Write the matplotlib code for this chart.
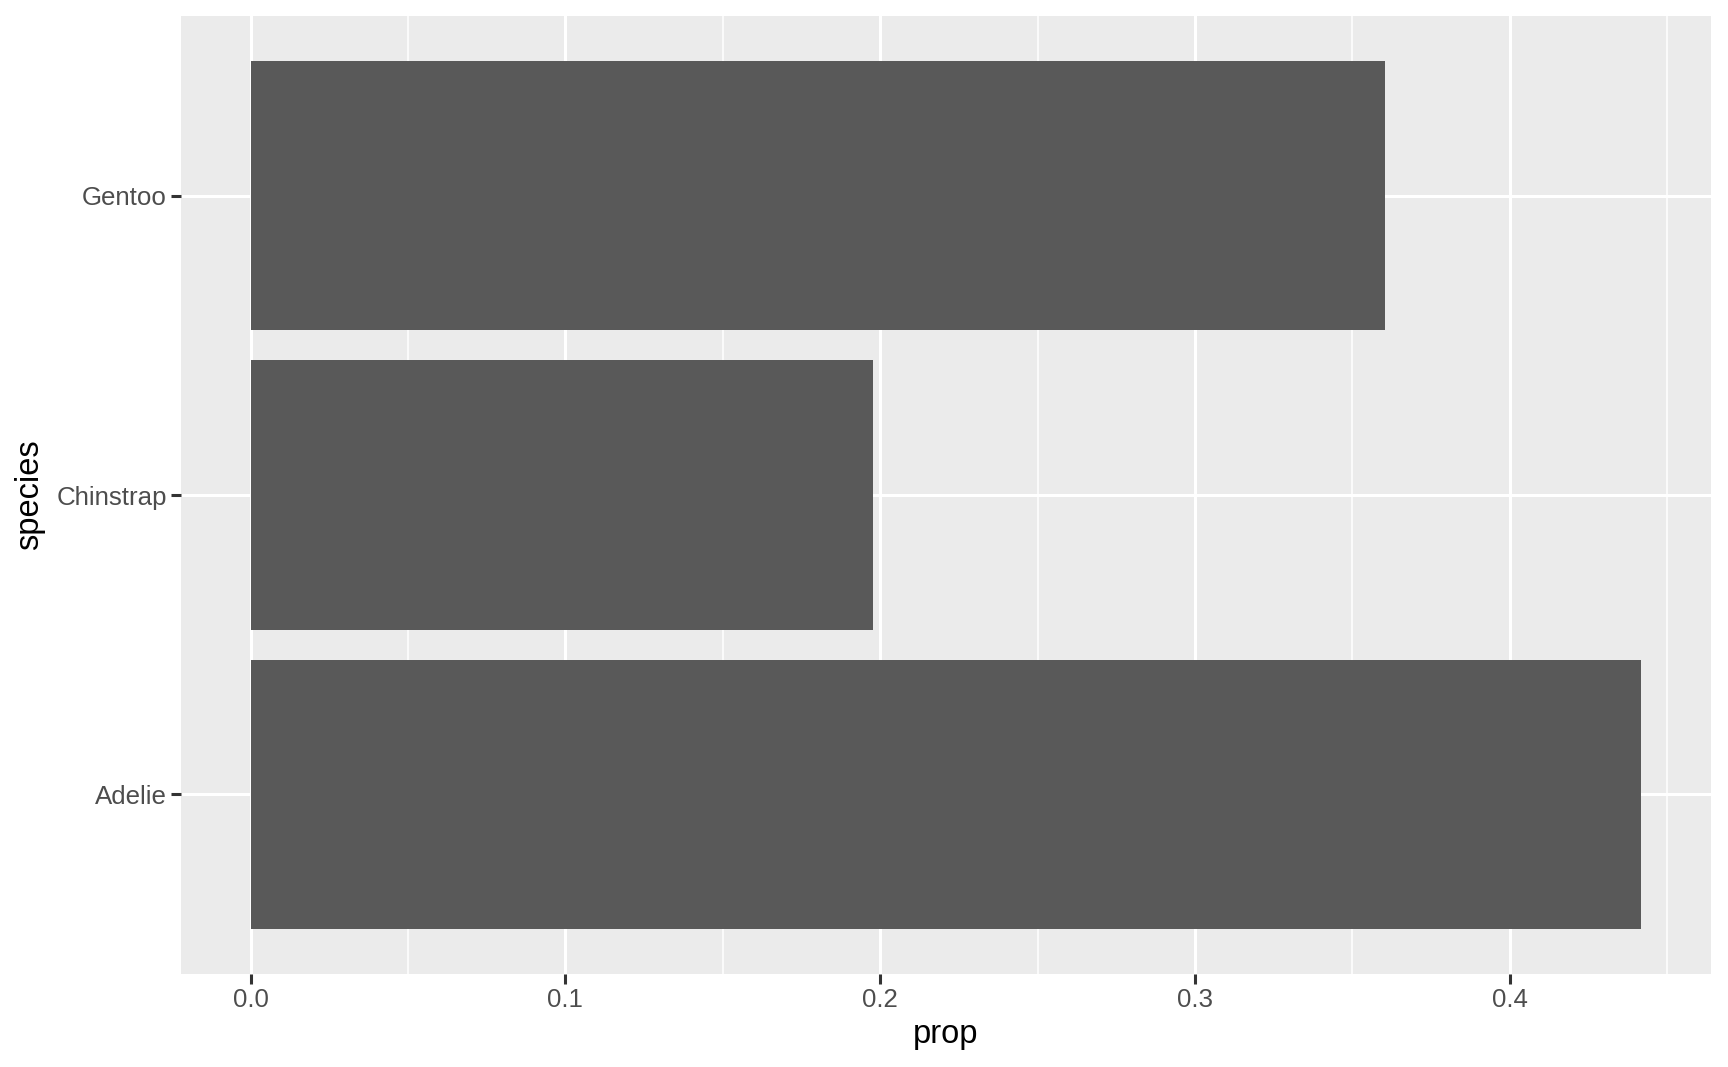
import numpy as np
import matplotlib
matplotlib.use("Agg")
import matplotlib.pyplot as plt

# penguin species share (counts / 344)
species = ["Adelie", "Chinstrap", "Gentoo"]
prop = [152/344, 68/344, 124/344]

plt.rcParams['font.family'] = ['Liberation Sans', 'DejaVu Sans']

fig = plt.figure(figsize=(17.28, 10.67), dpi=100)
W, H = 1728, 1067
ax = fig.add_axes([181/W, 1 - 974/H, (1711-181)/W, (974-16)/H])
ax.set_facecolor('#EBEBEB')

ypos = np.arange(1, len(species)+1)
ax.barh(ypos, prop, height=0.9, color='#595959', zorder=3)

xmax = max(prop)
ax.set_xlim(-0.05*xmax, 1.05*xmax)
ax.set_ylim(0.4, len(species)+0.6)

major = [0.0, 0.1, 0.2, 0.3, 0.4]
minor = [0.05, 0.15, 0.25, 0.35, 0.45]
ax.set_xticks(major)
ax.set_xticklabels([f"{v:.1f}" for v in major])
ax.set_xticks(minor, minor=True)
ax.set_yticks(ypos)
ax.set_yticklabels(species)

for v in major:
    ax.axvline(v, color='white', lw=2.2, zorder=1)
for v in minor:
    ax.axvline(v, color='white', lw=1.1, zorder=1)
for v in ypos:
    ax.axhline(v, color='white', lw=2.2, zorder=1)

for s in ax.spines.values():
    s.set_visible(False)

ax.tick_params(axis='both', which='major', length=7, width=2.2, color='#333333',
               labelsize=18.6, labelcolor='#4D4D4D', pad=3)
ax.tick_params(axis='x', which='minor', length=0)

ax.set_xlabel('prop', fontsize=23.5, color='black', labelpad=5)
ax.set_ylabel('species', fontsize=23.5, color='black', labelpad=8)

fig.savefig('out.png', dpi=100, facecolor='white')
